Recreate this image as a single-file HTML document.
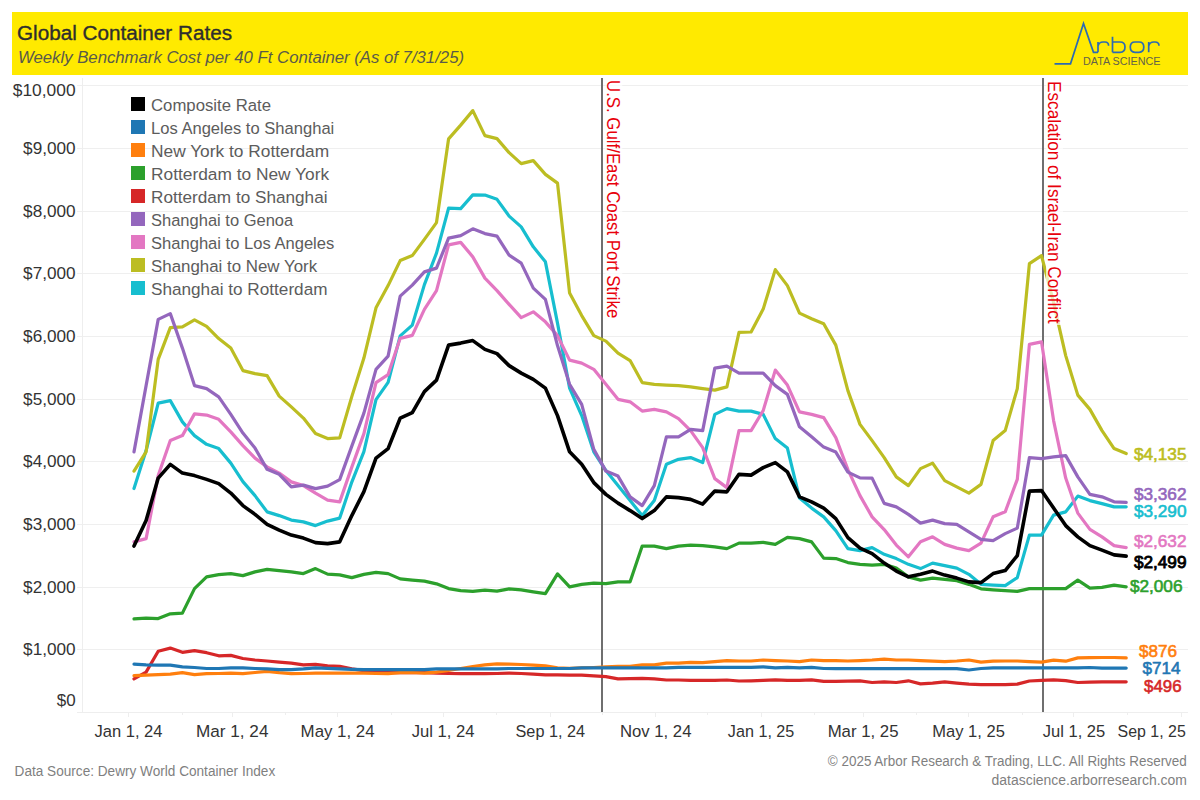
<!DOCTYPE html>
<html><head><meta charset="utf-8"><title>Global Container Rates</title>
<style>html,body{margin:0;padding:0;background:#fff;width:1200px;height:800px;overflow:hidden}</style>
</head><body>
<svg width="1200" height="800" viewBox="0 0 1200 800" style="display:block;font-family:'Liberation Sans', sans-serif">
<rect x="0" y="0" width="1200" height="800" fill="#ffffff"/>
<rect x="12" y="12" width="1176" height="63" fill="#FFEA00"/>
<text x="17" y="40" font-size="20" fill="#2e2e2e" stroke="#2e2e2e" stroke-width="0.35" textLength="215" lengthAdjust="spacingAndGlyphs">Global Container Rates</text>
<text x="18" y="63" font-size="16" font-style="italic" fill="#5a5a4a" textLength="446" lengthAdjust="spacingAndGlyphs">Weekly Benchmark Cost per 40 Ft Container (As of 7/31/25)</text>
<g fill="none" stroke="#2c6ab2" stroke-width="1.7" stroke-linejoin="miter">
<polyline points="1054.5,63.8 1070.5,63.8 1083.5,23.5 1093.5,52.3 1098,52.3"/>
<path d="M1098,52.3 V42 M1098,46 Q1099,42 1103,42 L1105,42 Q1108.6,42 1108.6,45.8"/>
<path d="M1112.5,36.8 V52.3 M1112.5,42 H1120 Q1125,42 1125,47 Q1125,52.3 1120,52.3 H1112.5"/>
<path d="M1135,42 H1139 Q1143.8,42 1143.8,47.1 Q1143.8,52.3 1139,52.3 H1135 Q1130.3,52.3 1130.3,47.1 Q1130.3,42 1135,42 Z"/>
<path d="M1148.7,52.3 V42 M1148.7,46 Q1149.7,42 1153.7,42 L1155,42 Q1159,42 1159,45.8"/>
</g>
<text x="1083" y="64.7" font-size="10" fill="#63614a" textLength="77.5" lengthAdjust="spacingAndGlyphs">DATA SCIENCE</text>
<line x1="77" y1="649.5" x2="1188" y2="649.5" stroke="#efefef" stroke-width="1"/>
<line x1="77" y1="587.5" x2="1188" y2="587.5" stroke="#efefef" stroke-width="1"/>
<line x1="77" y1="524.5" x2="1188" y2="524.5" stroke="#efefef" stroke-width="1"/>
<line x1="77" y1="461.5" x2="1188" y2="461.5" stroke="#efefef" stroke-width="1"/>
<line x1="77" y1="399.5" x2="1188" y2="399.5" stroke="#efefef" stroke-width="1"/>
<line x1="77" y1="336.5" x2="1188" y2="336.5" stroke="#efefef" stroke-width="1"/>
<line x1="77" y1="273.5" x2="1188" y2="273.5" stroke="#efefef" stroke-width="1"/>
<line x1="77" y1="211.5" x2="1188" y2="211.5" stroke="#efefef" stroke-width="1"/>
<line x1="77" y1="148.5" x2="1188" y2="148.5" stroke="#efefef" stroke-width="1"/>
<line x1="77" y1="85.5" x2="1188" y2="85.5" stroke="#efefef" stroke-width="1"/>
<line x1="82.5" y1="78" x2="82.5" y2="712.5" stroke="#eeeeee" stroke-width="1"/>
<line x1="77" y1="712.5" x2="1188" y2="712.5" stroke="#eeeeee" stroke-width="1"/>
<line x1="128.5" y1="712.5" x2="128.5" y2="717" stroke="#eeeeee" stroke-width="1"/>
<line x1="182.5" y1="712.5" x2="182.5" y2="715" stroke="#eeeeee" stroke-width="1"/>
<line x1="232.5" y1="712.5" x2="232.5" y2="717" stroke="#eeeeee" stroke-width="1"/>
<line x1="285.5" y1="712.5" x2="285.5" y2="715" stroke="#eeeeee" stroke-width="1"/>
<line x1="337.5" y1="712.5" x2="337.5" y2="717" stroke="#eeeeee" stroke-width="1"/>
<line x1="391.5" y1="712.5" x2="391.5" y2="715" stroke="#eeeeee" stroke-width="1"/>
<line x1="443.5" y1="712.5" x2="443.5" y2="717" stroke="#eeeeee" stroke-width="1"/>
<line x1="496.5" y1="712.5" x2="496.5" y2="715" stroke="#eeeeee" stroke-width="1"/>
<line x1="550.5" y1="712.5" x2="550.5" y2="717" stroke="#eeeeee" stroke-width="1"/>
<line x1="602.5" y1="712.5" x2="602.5" y2="715" stroke="#eeeeee" stroke-width="1"/>
<line x1="655.5" y1="712.5" x2="655.5" y2="717" stroke="#eeeeee" stroke-width="1"/>
<line x1="707.5" y1="712.5" x2="707.5" y2="715" stroke="#eeeeee" stroke-width="1"/>
<line x1="761.5" y1="712.5" x2="761.5" y2="717" stroke="#eeeeee" stroke-width="1"/>
<line x1="814.5" y1="712.5" x2="814.5" y2="715" stroke="#eeeeee" stroke-width="1"/>
<line x1="863.5" y1="712.5" x2="863.5" y2="717" stroke="#eeeeee" stroke-width="1"/>
<line x1="916.5" y1="712.5" x2="916.5" y2="715" stroke="#eeeeee" stroke-width="1"/>
<line x1="968.5" y1="712.5" x2="968.5" y2="717" stroke="#eeeeee" stroke-width="1"/>
<line x1="1022.5" y1="712.5" x2="1022.5" y2="715" stroke="#eeeeee" stroke-width="1"/>
<line x1="1073.5" y1="712.5" x2="1073.5" y2="717" stroke="#eeeeee" stroke-width="1"/>
<line x1="1127.5" y1="712.5" x2="1127.5" y2="715" stroke="#eeeeee" stroke-width="1"/>
<line x1="1181.5" y1="712.5" x2="1181.5" y2="717" stroke="#eeeeee" stroke-width="1"/>
<text x="75.6" y="706.1" font-size="17" fill="#333333" text-anchor="end" textLength="18.9" lengthAdjust="spacingAndGlyphs">$0</text>
<text x="75.6" y="655.3" font-size="17" fill="#333333" text-anchor="end" textLength="52.5" lengthAdjust="spacingAndGlyphs">$1,000</text>
<text x="75.6" y="593.3" font-size="17" fill="#333333" text-anchor="end" textLength="52.5" lengthAdjust="spacingAndGlyphs">$2,000</text>
<text x="75.6" y="530.3" font-size="17" fill="#333333" text-anchor="end" textLength="52.5" lengthAdjust="spacingAndGlyphs">$3,000</text>
<text x="75.6" y="467.3" font-size="17" fill="#333333" text-anchor="end" textLength="52.5" lengthAdjust="spacingAndGlyphs">$4,000</text>
<text x="75.6" y="405.3" font-size="17" fill="#333333" text-anchor="end" textLength="52.5" lengthAdjust="spacingAndGlyphs">$5,000</text>
<text x="75.6" y="342.3" font-size="17" fill="#333333" text-anchor="end" textLength="52.5" lengthAdjust="spacingAndGlyphs">$6,000</text>
<text x="75.6" y="279.3" font-size="17" fill="#333333" text-anchor="end" textLength="52.5" lengthAdjust="spacingAndGlyphs">$7,000</text>
<text x="75.6" y="217.3" font-size="17" fill="#333333" text-anchor="end" textLength="52.5" lengthAdjust="spacingAndGlyphs">$8,000</text>
<text x="75.6" y="154.3" font-size="17" fill="#333333" text-anchor="end" textLength="52.5" lengthAdjust="spacingAndGlyphs">$9,000</text>
<text x="75.6" y="96.1" font-size="17" fill="#333333" text-anchor="end" textLength="62.8" lengthAdjust="spacingAndGlyphs">$10,000</text>
<text x="128.5" y="737.3" font-size="16.3" fill="#333333" text-anchor="middle" textLength="68.0" lengthAdjust="spacingAndGlyphs">Jan 1, 24</text>
<text x="232.2" y="737.3" font-size="16.3" fill="#333333" text-anchor="middle" textLength="72.5" lengthAdjust="spacingAndGlyphs">Mar 1, 24</text>
<text x="337.6" y="737.3" font-size="16.3" fill="#333333" text-anchor="middle" textLength="74.0" lengthAdjust="spacingAndGlyphs">May 1, 24</text>
<text x="443.1" y="737.3" font-size="16.3" fill="#333333" text-anchor="middle" textLength="62.8" lengthAdjust="spacingAndGlyphs">Jul 1, 24</text>
<text x="550.3" y="737.3" font-size="16.3" fill="#333333" text-anchor="middle" textLength="69.5" lengthAdjust="spacingAndGlyphs">Sep 1, 24</text>
<text x="655.7" y="737.3" font-size="16.3" fill="#333333" text-anchor="middle" textLength="71.5" lengthAdjust="spacingAndGlyphs">Nov 1, 24</text>
<text x="761.1" y="737.3" font-size="16.3" fill="#333333" text-anchor="middle" textLength="66.5" lengthAdjust="spacingAndGlyphs">Jan 1, 25</text>
<text x="863.1" y="737.3" font-size="16.3" fill="#333333" text-anchor="middle" textLength="70.9" lengthAdjust="spacingAndGlyphs">Mar 1, 25</text>
<text x="968.6" y="737.3" font-size="16.3" fill="#333333" text-anchor="middle" textLength="72.5" lengthAdjust="spacingAndGlyphs">May 1, 25</text>
<text x="1074.0" y="737.3" font-size="16.3" fill="#333333" text-anchor="middle" textLength="62.5" lengthAdjust="spacingAndGlyphs">Jul 1, 25</text>
<text x="1151.7" y="737.3" font-size="16.3" fill="#333333" text-anchor="middle" textLength="68.2" lengthAdjust="spacingAndGlyphs">Sep 1, 25</text>
<line x1="602" y1="78" x2="602" y2="712" stroke="#6f6f6f" stroke-width="2"/>
<line x1="1043" y1="78" x2="1043" y2="712" stroke="#6f6f6f" stroke-width="2"/>
<polyline points="134.0,488.60 146.1,450.60 158.2,403.10 170.3,400.60 182.4,421.85 194.5,435.60 206.6,444.35 218.7,448.60 230.8,463.10 242.9,481.60 255.0,495.60 267.1,511.85 279.2,515.60 291.3,520.10 303.4,521.85 315.5,525.60 327.6,521.10 339.7,518.10 351.8,482.10 363.9,451.60 376.0,399.60 388.1,382.35 400.2,335.85 412.3,325.10 424.4,284.60 436.5,253.10 448.6,208.10 460.7,208.60 472.8,194.85 484.9,195.10 497.0,199.35 509.1,216.10 521.2,226.85 533.3,246.85 545.4,261.85 557.5,323.10 569.6,388.10 581.7,415.60 593.8,451.85 605.9,470.60 618.0,485.60 630.1,500.60 642.2,515.60 654.3,500.60 666.4,464.35 678.5,459.35 690.6,457.60 702.7,462.60 714.8,414.35 726.9,408.60 739.0,411.10 751.1,411.10 763.2,414.35 775.3,438.60 787.4,448.10 799.5,498.10 811.6,508.10 823.7,516.85 835.8,530.60 847.9,548.60 860.0,550.60 872.1,547.60 884.2,554.35 896.3,558.60 908.4,564.35 920.5,568.60 932.6,563.10 944.7,565.60 956.8,568.10 968.9,574.35 981.0,584.35 993.1,585.10 1005.2,585.60 1017.3,577.60 1029.4,535.10 1041.5,535.10 1053.6,515.10 1065.7,511.85 1077.8,496.10 1089.9,500.60 1102.0,503.60 1114.1,506.85 1126.2,506.85" fill="none" stroke="#17becf" stroke-width="3.2" stroke-linejoin="round" stroke-linecap="round"/>
<polyline points="134.0,471.10 146.1,451.85 158.2,359.35 170.3,327.60 182.4,326.85 194.5,319.85 206.6,326.35 218.7,338.60 230.8,348.10 242.9,370.60 255.0,373.60 267.1,375.60 279.2,396.10 291.3,406.85 303.4,418.10 315.5,433.60 327.6,438.60 339.7,437.85 351.8,396.60 363.9,358.10 376.0,307.85 388.1,285.60 400.2,260.60 412.3,255.60 424.4,239.35 436.5,222.60 448.6,138.85 460.7,125.10 472.8,110.60 484.9,135.60 497.0,138.60 509.1,152.60 521.2,163.60 533.3,160.60 545.4,174.35 557.5,183.10 569.6,293.10 581.7,315.60 593.8,335.60 605.9,341.10 618.0,353.10 630.1,360.60 642.2,382.60 654.3,384.35 666.4,385.10 678.5,385.60 690.6,386.85 702.7,388.60 714.8,390.10 726.9,386.85 739.0,332.35 751.1,332.00 763.2,309.10 775.3,269.60 787.4,285.60 799.5,313.10 811.6,318.70 823.7,323.70 835.8,345.10 847.9,390.60 860.0,424.35 872.1,440.60 884.2,457.60 896.3,476.85 908.4,485.60 920.5,468.60 932.6,463.10 944.7,480.60 956.8,486.85 968.9,493.10 981.0,484.35 993.1,440.60 1005.2,430.60 1017.3,388.60 1029.4,263.60 1041.5,255.60 1053.6,302.60 1065.7,355.60 1077.8,395.10 1089.9,409.35 1102.0,430.60 1114.1,448.60 1126.2,453.60" fill="none" stroke="#bcbd22" stroke-width="3.2" stroke-linejoin="round" stroke-linecap="round"/>
<polyline points="134.0,541.85 146.1,538.60 158.2,475.60 170.3,440.60 182.4,435.60 194.5,413.85 206.6,415.10 218.7,419.35 230.8,431.85 242.9,445.60 255.0,458.10 267.1,466.85 279.2,473.10 291.3,481.85 303.4,485.60 315.5,493.10 327.6,500.10 339.7,501.85 351.8,467.10 363.9,433.60 376.0,382.60 388.1,374.60 400.2,338.35 412.3,335.35 424.4,309.35 436.5,290.60 448.6,244.85 460.7,242.35 472.8,256.85 484.9,278.10 497.0,290.60 509.1,304.35 521.2,317.60 533.3,311.85 545.4,321.85 557.5,335.60 569.6,360.10 581.7,363.10 593.8,369.35 605.9,384.35 618.0,399.35 630.1,401.85 642.2,411.10 654.3,409.35 666.4,411.85 678.5,418.60 690.6,430.60 702.7,447.60 714.8,478.60 726.9,487.60 739.0,430.60 751.1,430.60 763.2,410.60 775.3,370.10 787.4,385.10 799.5,411.85 811.6,414.35 823.7,417.60 835.8,437.60 847.9,469.60 860.0,495.60 872.1,516.85 884.2,529.60 896.3,545.10 908.4,556.85 920.5,541.85 932.6,536.85 944.7,544.35 956.8,548.10 968.9,550.60 981.0,543.10 993.1,516.85 1005.2,511.85 1017.3,479.35 1029.4,344.35 1041.5,341.85 1053.6,420.60 1065.7,478.10 1077.8,513.10 1089.9,529.35 1102.0,536.85 1114.1,545.60 1126.2,547.60" fill="none" stroke="#e377c2" stroke-width="3.2" stroke-linejoin="round" stroke-linecap="round"/>
<polyline points="134.0,451.85 146.1,385.60 158.2,319.35 170.3,313.60 182.4,348.10 194.5,385.60 206.6,388.60 218.7,396.85 230.8,414.35 242.9,433.10 255.0,448.10 267.1,469.35 279.2,474.35 291.3,486.85 303.4,485.10 315.5,488.60 327.6,486.10 339.7,479.60 351.8,446.10 363.9,413.10 376.0,369.35 388.1,356.10 400.2,296.10 412.3,285.10 424.4,271.85 436.5,268.10 448.6,238.10 460.7,235.60 472.8,228.85 484.9,233.60 497.0,236.10 509.1,255.10 521.2,263.10 533.3,288.10 545.4,299.35 557.5,345.60 569.6,384.35 581.7,404.35 593.8,449.35 605.9,471.10 618.0,476.10 630.1,496.85 642.2,505.60 654.3,485.60 666.4,436.85 678.5,436.85 690.6,429.35 702.7,430.60 714.8,368.10 726.9,366.10 739.0,373.10 751.1,373.10 763.2,373.10 775.3,385.60 787.4,394.35 799.5,426.85 811.6,436.85 823.7,447.10 835.8,452.10 847.9,472.10 860.0,477.85 872.1,478.10 884.2,503.35 896.3,506.85 908.4,514.35 920.5,523.10 932.6,520.10 944.7,523.60 956.8,524.35 968.9,531.85 981.0,539.35 993.1,540.60 1005.2,533.60 1017.3,528.10 1029.4,457.60 1041.5,458.60 1053.6,456.85 1065.7,455.60 1077.8,476.85 1089.9,494.35 1102.0,496.85 1114.1,501.85 1126.2,502.35" fill="none" stroke="#9467bd" stroke-width="3.2" stroke-linejoin="round" stroke-linecap="round"/>
<polyline points="134.0,678.90 146.1,672.10 158.2,651.20 170.3,648.10 182.4,652.30 194.5,650.60 206.6,652.70 218.7,655.80 230.8,655.40 242.9,658.50 255.0,660.00 267.1,661.00 279.2,662.10 291.3,663.10 303.4,664.80 315.5,664.35 327.6,665.80 339.7,666.40 351.8,668.90 363.9,670.60 376.0,672.10 388.1,672.70 400.2,672.70 412.3,672.70 424.4,672.70 436.5,673.10 448.6,673.50 460.7,673.70 472.8,673.70 484.9,673.70 497.0,673.50 509.1,673.10 521.2,673.50 533.3,674.10 545.4,674.80 557.5,674.80 569.6,675.20 581.7,675.20 593.8,675.80 605.9,676.60 618.0,678.90 630.1,678.70 642.2,678.30 654.3,678.90 666.4,680.00 678.5,680.00 690.6,680.40 702.7,680.40 714.8,680.40 726.9,680.00 739.0,681.00 751.1,680.80 763.2,680.40 775.3,679.80 787.4,680.40 799.5,680.40 811.6,679.80 823.7,681.40 835.8,681.40 847.9,681.20 860.0,680.80 872.1,682.50 884.2,681.85 896.3,682.50 908.4,680.80 920.5,683.90 932.6,683.10 944.7,681.85 956.8,683.10 968.9,684.10 981.0,684.60 993.1,684.60 1005.2,684.60 1017.3,684.10 1029.4,681.00 1041.5,680.40 1053.6,679.80 1065.7,680.60 1077.8,682.50 1089.9,682.10 1102.0,681.85 1114.1,681.85 1126.2,681.85" fill="none" stroke="#d62728" stroke-width="3.2" stroke-linejoin="round" stroke-linecap="round"/>
<polyline points="134.0,618.85 146.1,618.10 158.2,618.60 170.3,613.85 182.4,613.10 194.5,588.60 206.6,576.85 218.7,574.60 230.8,573.60 242.9,575.60 255.0,571.85 267.1,569.35 279.2,570.60 291.3,571.85 303.4,573.60 315.5,568.60 327.6,574.10 339.7,574.85 351.8,577.60 363.9,574.35 376.0,572.35 388.1,573.60 400.2,578.85 412.3,580.10 424.4,581.10 436.5,583.85 448.6,588.60 460.7,590.60 472.8,591.35 484.9,590.10 497.0,591.10 509.1,588.85 521.2,589.85 533.3,591.85 545.4,593.60 557.5,573.85 569.6,586.85 581.7,584.35 593.8,583.10 605.9,583.60 618.0,581.85 630.1,581.85 642.2,546.10 654.3,546.10 666.4,548.60 678.5,546.10 690.6,545.10 702.7,545.60 714.8,546.85 726.9,548.60 739.0,543.10 751.1,543.10 763.2,542.35 775.3,544.35 787.4,537.35 799.5,538.60 811.6,541.85 823.7,558.10 835.8,558.60 847.9,562.60 860.0,564.35 872.1,565.10 884.2,564.35 896.3,568.10 908.4,576.85 920.5,580.10 932.6,578.10 944.7,579.35 956.8,580.60 968.9,584.35 981.0,588.85 993.1,589.85 1005.2,590.60 1017.3,591.35 1029.4,588.60 1041.5,588.60 1053.6,588.60 1065.7,588.60 1077.8,580.10 1089.9,588.10 1102.0,587.35 1114.1,585.10 1126.2,586.85" fill="none" stroke="#2ca02c" stroke-width="3.2" stroke-linejoin="round" stroke-linecap="round"/>
<polyline points="134.0,675.60 146.1,675.20 158.2,674.60 170.3,674.10 182.4,672.70 194.5,674.60 206.6,673.70 218.7,673.50 230.8,673.10 242.9,673.70 255.0,672.50 267.1,671.40 279.2,672.70 291.3,673.70 303.4,673.50 315.5,673.10 327.6,673.10 339.7,673.10 351.8,673.10 363.9,673.10 376.0,673.50 388.1,673.70 400.2,672.70 412.3,672.50 424.4,673.20 436.5,672.20 448.6,670.50 460.7,668.50 472.8,666.50 484.9,664.80 497.0,663.80 509.1,664.20 521.2,664.50 533.3,665.20 545.4,665.80 557.5,667.90 569.6,668.30 581.7,667.90 593.8,667.50 605.9,666.85 618.0,666.40 630.1,666.40 642.2,664.80 654.3,664.80 666.4,663.10 678.5,663.10 690.6,662.30 702.7,662.70 714.8,661.60 726.9,660.60 739.0,661.00 751.1,661.00 763.2,660.00 775.3,660.60 787.4,661.00 799.5,661.60 811.6,660.00 823.7,660.60 835.8,660.60 847.9,661.00 860.0,660.60 872.1,660.00 884.2,659.10 896.3,660.00 908.4,660.00 920.5,660.60 932.6,661.20 944.7,661.60 956.8,661.00 968.9,660.00 981.0,662.10 993.1,661.20 1005.2,661.00 1017.3,661.00 1029.4,661.60 1041.5,662.10 1053.6,660.20 1065.7,661.20 1077.8,657.90 1089.9,657.60 1102.0,657.50 1114.1,657.50 1126.2,657.85" fill="none" stroke="#ff7f0e" stroke-width="3.2" stroke-linejoin="round" stroke-linecap="round"/>
<polyline points="134.0,664.10 146.1,664.80 158.2,665.20 170.3,665.20 182.4,666.85 194.5,667.50 206.6,668.50 218.7,668.50 230.8,667.90 242.9,667.90 255.0,668.50 267.1,668.90 279.2,669.60 291.3,669.60 303.4,668.90 315.5,667.90 327.6,668.30 339.7,668.90 351.8,669.35 363.9,669.60 376.0,669.60 388.1,669.60 400.2,669.60 412.3,669.60 424.4,669.60 436.5,668.90 448.6,668.90 460.7,668.90 472.8,668.90 484.9,668.90 497.0,668.90 509.1,668.50 521.2,668.50 533.3,668.50 545.4,668.50 557.5,668.50 569.6,668.50 581.7,667.90 593.8,667.90 605.9,667.90 618.0,667.90 630.1,667.90 642.2,667.90 654.3,667.90 666.4,667.90 678.5,667.40 690.6,667.40 702.7,667.40 714.8,667.40 726.9,667.40 739.0,667.40 751.1,667.40 763.2,666.85 775.3,667.90 787.4,667.30 799.5,667.90 811.6,667.30 823.7,668.50 835.8,668.70 847.9,668.70 860.0,668.70 872.1,668.70 884.2,668.70 896.3,668.70 908.4,668.70 920.5,668.70 932.6,668.70 944.7,668.70 956.8,668.70 968.9,670.00 981.0,668.50 993.1,667.90 1005.2,667.90 1017.3,667.90 1029.4,667.90 1041.5,667.90 1053.6,667.90 1065.7,667.90 1077.8,667.90 1089.9,667.50 1102.0,668.10 1114.1,668.10 1126.2,668.10" fill="none" stroke="#1f77b4" stroke-width="3.2" stroke-linejoin="round" stroke-linecap="round"/>
<polyline points="134.0,546.10 146.1,520.60 158.2,478.10 170.3,464.35 182.4,473.10 194.5,475.60 206.6,479.35 218.7,483.60 230.8,493.10 242.9,505.60 255.0,514.35 267.1,524.35 279.2,530.10 291.3,535.10 303.4,538.10 315.5,542.60 327.6,543.60 339.7,541.85 351.8,515.60 363.9,491.60 376.0,458.10 388.1,448.60 400.2,418.10 412.3,412.60 424.4,391.60 436.5,380.10 448.6,345.10 460.7,343.10 472.8,340.60 484.9,349.35 497.0,353.60 509.1,365.60 521.2,373.10 533.3,379.35 545.4,388.10 557.5,415.60 569.6,451.85 581.7,464.35 593.8,482.60 605.9,494.35 618.0,503.10 630.1,510.60 642.2,518.60 654.3,510.60 666.4,496.85 678.5,497.60 690.6,499.35 702.7,504.10 714.8,491.10 726.9,491.85 739.0,474.35 751.1,475.10 763.2,467.60 775.3,462.60 787.4,471.85 799.5,496.85 811.6,501.85 823.7,508.10 835.8,518.60 847.9,537.60 860.0,548.10 872.1,553.60 884.2,563.10 896.3,571.10 908.4,576.85 920.5,574.35 932.6,571.10 944.7,575.10 956.8,578.10 968.9,581.85 981.0,582.60 993.1,573.60 1005.2,570.60 1017.3,555.60 1029.4,491.10 1041.5,490.60 1053.6,508.10 1065.7,525.60 1077.8,536.85 1089.9,545.60 1102.0,550.10 1114.1,554.85 1126.2,556.10" fill="none" stroke="#000000" stroke-width="3.6" stroke-linejoin="round" stroke-linecap="round"/>
<g transform="translate(607.3,80) rotate(90)"><rect x="-1" y="-15" width="241" height="17" fill="#ffffff" fill-opacity="0.7"/><text x="0" y="0" font-size="18" fill="#e8000b" textLength="238.3" lengthAdjust="spacingAndGlyphs">U.S. Gulf/East Coast Port Strike</text></g>
<g transform="translate(1048,81) rotate(90)"><rect x="-1" y="-15" width="245" height="17" fill="#ffffff" fill-opacity="0.7"/><text x="0" y="0" font-size="18" fill="#e8000b" textLength="242.5" lengthAdjust="spacingAndGlyphs">Escalation of Israel-Iran Conflict</text></g>
<rect x="131" y="97" width="14" height="14" fill="#000000"/>
<text x="151" y="111" font-size="16.8" fill="#5c5c5c" textLength="120.1" lengthAdjust="spacingAndGlyphs">Composite Rate</text>
<rect x="131" y="120" width="14" height="14" fill="#1f77b4"/>
<text x="151" y="134" font-size="16.8" fill="#5c5c5c" textLength="183.3" lengthAdjust="spacingAndGlyphs">Los Angeles to Shanghai</text>
<rect x="131" y="143" width="14" height="14" fill="#ff7f0e"/>
<text x="151" y="157" font-size="16.8" fill="#5c5c5c" textLength="178.1" lengthAdjust="spacingAndGlyphs">New York to Rotterdam</text>
<rect x="131" y="166" width="14" height="14" fill="#2ca02c"/>
<text x="151" y="180" font-size="16.8" fill="#5c5c5c" textLength="178.1" lengthAdjust="spacingAndGlyphs">Rotterdam to New York</text>
<rect x="131" y="189" width="14" height="14" fill="#d62728"/>
<text x="151" y="203" font-size="16.8" fill="#5c5c5c" textLength="176.5" lengthAdjust="spacingAndGlyphs">Rotterdam to Shanghai</text>
<rect x="131" y="212" width="14" height="14" fill="#9467bd"/>
<text x="151" y="226" font-size="16.8" fill="#5c5c5c" textLength="142.2" lengthAdjust="spacingAndGlyphs">Shanghai to Genoa</text>
<rect x="131" y="235" width="14" height="14" fill="#e377c2"/>
<text x="151" y="249" font-size="16.8" fill="#5c5c5c" textLength="183.3" lengthAdjust="spacingAndGlyphs">Shanghai to Los Angeles</text>
<rect x="131" y="258" width="14" height="14" fill="#bcbd22"/>
<text x="151" y="272" font-size="16.8" fill="#5c5c5c" textLength="166.1" lengthAdjust="spacingAndGlyphs">Shanghai to New York</text>
<rect x="131" y="281" width="14" height="14" fill="#17becf"/>
<text x="151" y="295" font-size="16.8" fill="#5c5c5c" textLength="176.5" lengthAdjust="spacingAndGlyphs">Shanghai to Rotterdam</text>
<text x="1133.9" y="459.6" font-size="17.3" fill="#bcbd22" stroke="#bcbd22" stroke-width="0.6" textLength="52.6" lengthAdjust="spacingAndGlyphs">$4,135</text>
<text x="1133.9" y="500.4" font-size="17.3" fill="#9467bd" stroke="#9467bd" stroke-width="0.6" textLength="52.6" lengthAdjust="spacingAndGlyphs">$3,362</text>
<text x="1133.9" y="516.6" font-size="17.3" fill="#17becf" stroke="#17becf" stroke-width="0.6" textLength="52.6" lengthAdjust="spacingAndGlyphs">$3,290</text>
<text x="1133.9" y="546.6" font-size="17.3" fill="#e377c2" stroke="#e377c2" stroke-width="0.6" textLength="52.6" lengthAdjust="spacingAndGlyphs">$2,632</text>
<text x="1133.9" y="567.6" font-size="17.3" fill="#000000" stroke="#000000" stroke-width="0.85" textLength="52.6" lengthAdjust="spacingAndGlyphs">$2,499</text>
<text x="1129.9" y="591.6" font-size="17.3" fill="#2ca02c" stroke="#2ca02c" stroke-width="0.6" textLength="52.6" lengthAdjust="spacingAndGlyphs">$2,006</text>
<text x="1138.9" y="656.9" font-size="17.3" fill="#ff7f0e" stroke="#ff7f0e" stroke-width="0.6" textLength="38.1" lengthAdjust="spacingAndGlyphs">$876</text>
<text x="1142.5" y="673.8" font-size="17.3" fill="#1f77b4" stroke="#1f77b4" stroke-width="0.6" textLength="38.0" lengthAdjust="spacingAndGlyphs">$714</text>
<text x="1144.1" y="691.9" font-size="17.3" fill="#d62728" stroke="#d62728" stroke-width="0.6" textLength="37.4" lengthAdjust="spacingAndGlyphs">$496</text>
<text x="14.6" y="775.6" font-size="13.8" fill="#7f7f7f" textLength="260.6" lengthAdjust="spacingAndGlyphs">Data Source: Dewry World Container Index</text>
<text x="827.8" y="765.9" font-size="13.8" fill="#7f7f7f" textLength="359" lengthAdjust="spacingAndGlyphs">© 2025 Arbor Research &amp; Trading, LLC. All Rights Reserved</text>
<text x="991.6" y="784.6" font-size="13.8" fill="#7f7f7f" textLength="195.3" lengthAdjust="spacingAndGlyphs">datascience.arborresearch.com</text>
</svg>
</body></html>
